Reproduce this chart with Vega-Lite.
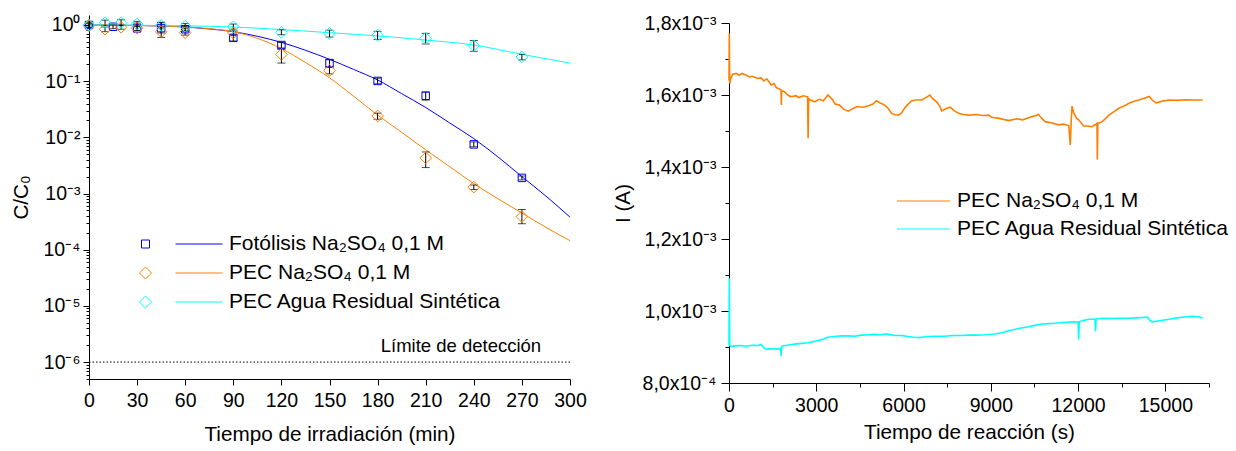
{
  "$schema": "https://vega.github.io/schema/vega-lite/v6.json",
  "background": "white",
  "padding": {"left": 10, "top": 13, "right": 5, "bottom": 0},
  "spacing": 159,
  "bounds": "flush",
  "config": {
    "font": "Liberation Sans",
    "view": {"stroke": null},
    "axis": {"domainColor": "black", "tickColor": "black", "labelColor": "black", "titleColor": "black", "labelFont": "Liberation Sans", "titleFont": "Liberation Sans", "labelFontSize": 19.5, "titleFontSize": 20.7, "titleFontWeight": "normal", "grid": false, "tickWidth": 1, "domainWidth": 1, "labelOverlap": false, "labelFlush": false},
    "legend": {"labelFont": "Liberation Sans", "labelFontSize": 21, "labelColor": "black", "labelLimit": 500}
  },
  "datasets": {
    "pts": [
      {"s": "Fotólisis Na₂SO₄ 0,1 M", "t": 0, "c": 1.0, "lo": 0.9, "hi": 1.12},
      {"s": "Fotólisis Na₂SO₄ 0,1 M", "t": 15, "c": 0.93, "lo": 0.86, "hi": 1.0},
      {"s": "Fotólisis Na₂SO₄ 0,1 M", "t": 30, "c": 0.87, "lo": 0.8, "hi": 1.08},
      {"s": "Fotólisis Na₂SO₄ 0,1 M", "t": 45, "c": 0.88, "lo": 0.72, "hi": 1.12},
      {"s": "Fotólisis Na₂SO₄ 0,1 M", "t": 60, "c": 0.84, "lo": 0.76, "hi": 0.95},
      {"s": "Fotólisis Na₂SO₄ 0,1 M", "t": 90, "c": 0.59, "lo": 0.52, "hi": 0.66},
      {"s": "Fotólisis Na₂SO₄ 0,1 M", "t": 120, "c": 0.44, "lo": 0.39, "hi": 0.49},
      {"s": "Fotólisis Na₂SO₄ 0,1 M", "t": 150, "c": 0.21, "lo": 0.18, "hi": 0.24},
      {"s": "Fotólisis Na₂SO₄ 0,1 M", "t": 180, "c": 0.101, "lo": 0.09, "hi": 0.113},
      {"s": "Fotólisis Na₂SO₄ 0,1 M", "t": 210, "c": 0.055, "lo": 0.046, "hi": 0.064},
      {"s": "Fotólisis Na₂SO₄ 0,1 M", "t": 240, "c": 0.0075, "lo": 0.0068, "hi": 0.0083},
      {"s": "Fotólisis Na₂SO₄ 0,1 M", "t": 270, "c": 0.0019, "lo": 0.00175, "hi": 0.00205},
      {"s": "PEC Na₂SO₄ 0,1 M", "t": 0, "c": 0.97, "lo": 0.88, "hi": 1.05},
      {"s": "PEC Na₂SO₄ 0,1 M", "t": 10, "c": 0.84, "lo": 0.76, "hi": 0.92},
      {"s": "PEC Na₂SO₄ 0,1 M", "t": 20, "c": 0.91, "lo": 0.84, "hi": 1.0},
      {"s": "PEC Na₂SO₄ 0,1 M", "t": 30, "c": 0.88, "lo": 0.8, "hi": 0.96},
      {"s": "PEC Na₂SO₄ 0,1 M", "t": 45, "c": 0.76, "lo": 0.6, "hi": 0.92},
      {"s": "PEC Na₂SO₄ 0,1 M", "t": 60, "c": 0.73, "lo": 0.66, "hi": 0.8},
      {"s": "PEC Na₂SO₄ 0,1 M", "t": 90, "c": 0.72, "lo": 0.66, "hi": 0.79},
      {"s": "PEC Na₂SO₄ 0,1 M", "t": 120, "c": 0.3, "lo": 0.21, "hi": 0.37},
      {"s": "PEC Na₂SO₄ 0,1 M", "t": 150, "c": 0.155, "lo": 0.135, "hi": 0.175},
      {"s": "PEC Na₂SO₄ 0,1 M", "t": 180, "c": 0.024, "lo": 0.021, "hi": 0.027},
      {"s": "PEC Na₂SO₄ 0,1 M", "t": 210, "c": 0.0043, "lo": 0.0029, "hi": 0.0055},
      {"s": "PEC Na₂SO₄ 0,1 M", "t": 240, "c": 0.0013, "lo": 0.00118, "hi": 0.00142},
      {"s": "PEC Na₂SO₄ 0,1 M", "t": 270, "c": 0.00039, "lo": 0.00029, "hi": 0.00052},
      {"s": "PEC Agua Residual Sintética", "t": 0, "c": 1.0, "lo": 0.92, "hi": 1.08},
      {"s": "PEC Agua Residual Sintética", "t": 10, "c": 1.1, "lo": 0.98, "hi": 1.22},
      {"s": "PEC Agua Residual Sintética", "t": 20, "c": 1.1, "lo": 0.98, "hi": 1.24},
      {"s": "PEC Agua Residual Sintética", "t": 30, "c": 1.04, "lo": 0.94, "hi": 1.16},
      {"s": "PEC Agua Residual Sintética", "t": 45, "c": 0.98, "lo": 0.88, "hi": 1.1},
      {"s": "PEC Agua Residual Sintética", "t": 60, "c": 0.95, "lo": 0.86, "hi": 1.06},
      {"s": "PEC Agua Residual Sintética", "t": 90, "c": 0.93, "lo": 0.84, "hi": 1.04},
      {"s": "PEC Agua Residual Sintética", "t": 120, "c": 0.74, "lo": 0.67, "hi": 0.82},
      {"s": "PEC Agua Residual Sintética", "t": 150, "c": 0.71, "lo": 0.61, "hi": 0.81},
      {"s": "PEC Agua Residual Sintética", "t": 180, "c": 0.66, "lo": 0.55, "hi": 0.77},
      {"s": "PEC Agua Residual Sintética", "t": 210, "c": 0.58, "lo": 0.46, "hi": 0.71},
      {"s": "PEC Agua Residual Sintética", "t": 240, "c": 0.43, "lo": 0.34, "hi": 0.53},
      {"s": "PEC Agua Residual Sintética", "t": 270, "c": 0.27, "lo": 0.24, "hi": 0.3}
    ],
    "fit": [
      {"s": "Fotólisis Na₂SO₄ 0,1 M", "t": 0, "c": 1.0},
      {"s": "Fotólisis Na₂SO₄ 0,1 M", "t": 30, "c": 0.98},
      {"s": "Fotólisis Na₂SO₄ 0,1 M", "t": 60, "c": 0.92},
      {"s": "Fotólisis Na₂SO₄ 0,1 M", "t": 75, "c": 0.85},
      {"s": "Fotólisis Na₂SO₄ 0,1 M", "t": 90, "c": 0.76},
      {"s": "Fotólisis Na₂SO₄ 0,1 M", "t": 105, "c": 0.63},
      {"s": "Fotólisis Na₂SO₄ 0,1 M", "t": 120, "c": 0.49},
      {"s": "Fotólisis Na₂SO₄ 0,1 M", "t": 135, "c": 0.355},
      {"s": "Fotólisis Na₂SO₄ 0,1 M", "t": 150, "c": 0.245},
      {"s": "Fotólisis Na₂SO₄ 0,1 M", "t": 165, "c": 0.162},
      {"s": "Fotólisis Na₂SO₄ 0,1 M", "t": 180, "c": 0.105},
      {"s": "Fotólisis Na₂SO₄ 0,1 M", "t": 195, "c": 0.06},
      {"s": "Fotólisis Na₂SO₄ 0,1 M", "t": 210, "c": 0.034},
      {"s": "Fotólisis Na₂SO₄ 0,1 M", "t": 225, "c": 0.018},
      {"s": "Fotólisis Na₂SO₄ 0,1 M", "t": 240, "c": 0.0095},
      {"s": "Fotólisis Na₂SO₄ 0,1 M", "t": 255, "c": 0.0045},
      {"s": "Fotólisis Na₂SO₄ 0,1 M", "t": 270, "c": 0.002},
      {"s": "Fotólisis Na₂SO₄ 0,1 M", "t": 285, "c": 0.0009},
      {"s": "Fotólisis Na₂SO₄ 0,1 M", "t": 300, "c": 0.00038},
      {"s": "PEC Na₂SO₄ 0,1 M", "t": 0, "c": 1.0},
      {"s": "PEC Na₂SO₄ 0,1 M", "t": 30, "c": 0.98},
      {"s": "PEC Na₂SO₄ 0,1 M", "t": 60, "c": 0.92},
      {"s": "PEC Na₂SO₄ 0,1 M", "t": 75, "c": 0.86},
      {"s": "PEC Na₂SO₄ 0,1 M", "t": 90, "c": 0.76},
      {"s": "PEC Na₂SO₄ 0,1 M", "t": 105, "c": 0.58},
      {"s": "PEC Na₂SO₄ 0,1 M", "t": 120, "c": 0.38},
      {"s": "PEC Na₂SO₄ 0,1 M", "t": 135, "c": 0.215},
      {"s": "PEC Na₂SO₄ 0,1 M", "t": 150, "c": 0.115},
      {"s": "PEC Na₂SO₄ 0,1 M", "t": 165, "c": 0.054},
      {"s": "PEC Na₂SO₄ 0,1 M", "t": 180, "c": 0.025},
      {"s": "PEC Na₂SO₄ 0,1 M", "t": 195, "c": 0.0123},
      {"s": "PEC Na₂SO₄ 0,1 M", "t": 210, "c": 0.006},
      {"s": "PEC Na₂SO₄ 0,1 M", "t": 225, "c": 0.003},
      {"s": "PEC Na₂SO₄ 0,1 M", "t": 240, "c": 0.0015},
      {"s": "PEC Na₂SO₄ 0,1 M", "t": 255, "c": 0.00081},
      {"s": "PEC Na₂SO₄ 0,1 M", "t": 270, "c": 0.00045},
      {"s": "PEC Na₂SO₄ 0,1 M", "t": 285, "c": 0.00025},
      {"s": "PEC Na₂SO₄ 0,1 M", "t": 300, "c": 0.000145},
      {"s": "PEC Agua Residual Sintética", "t": 0, "c": 1.0},
      {"s": "PEC Agua Residual Sintética", "t": 30, "c": 0.99},
      {"s": "PEC Agua Residual Sintética", "t": 60, "c": 0.965},
      {"s": "PEC Agua Residual Sintética", "t": 90, "c": 0.92},
      {"s": "PEC Agua Residual Sintética", "t": 120, "c": 0.83},
      {"s": "PEC Agua Residual Sintética", "t": 150, "c": 0.73},
      {"s": "PEC Agua Residual Sintética", "t": 180, "c": 0.64},
      {"s": "PEC Agua Residual Sintética", "t": 210, "c": 0.54},
      {"s": "PEC Agua Residual Sintética", "t": 240, "c": 0.44},
      {"s": "PEC Agua Residual Sintética", "t": 270, "c": 0.3},
      {"s": "PEC Agua Residual Sintética", "t": 300, "c": 0.21}
    ],
    "cur": [
      {"s": "PEC Na₂SO₄ 0,1 M", "t": 0, "i": 0.00164},
      {"s": "PEC Na₂SO₄ 0,1 M", "t": 10, "i": 0.001771},
      {"s": "PEC Na₂SO₄ 0,1 M", "t": 25, "i": 0.001632},
      {"s": "PEC Na₂SO₄ 0,1 M", "t": 60, "i": 0.001645},
      {"s": "PEC Na₂SO₄ 0,1 M", "t": 127, "i": 0.001658},
      {"s": "PEC Na₂SO₄ 0,1 M", "t": 250, "i": 0.00166},
      {"s": "PEC Na₂SO₄ 0,1 M", "t": 350, "i": 0.001655},
      {"s": "PEC Na₂SO₄ 0,1 M", "t": 450, "i": 0.00166},
      {"s": "PEC Na₂SO₄ 0,1 M", "t": 590, "i": 0.001655},
      {"s": "PEC Na₂SO₄ 0,1 M", "t": 700, "i": 0.00165},
      {"s": "PEC Na₂SO₄ 0,1 M", "t": 800, "i": 0.001652},
      {"s": "PEC Na₂SO₄ 0,1 M", "t": 990, "i": 0.001646},
      {"s": "PEC Na₂SO₄ 0,1 M", "t": 1100, "i": 0.001648},
      {"s": "PEC Na₂SO₄ 0,1 M", "t": 1200, "i": 0.001639},
      {"s": "PEC Na₂SO₄ 0,1 M", "t": 1300, "i": 0.001645},
      {"s": "PEC Na₂SO₄ 0,1 M", "t": 1450, "i": 0.001628},
      {"s": "PEC Na₂SO₄ 0,1 M", "t": 1550, "i": 0.001632},
      {"s": "PEC Na₂SO₄ 0,1 M", "t": 1620, "i": 0.001621},
      {"s": "PEC Na₂SO₄ 0,1 M", "t": 1750, "i": 0.001616},
      {"s": "PEC Na₂SO₄ 0,1 M", "t": 1790, "i": 0.001614},
      {"s": "PEC Na₂SO₄ 0,1 M", "t": 1800, "i": 0.001572},
      {"s": "PEC Na₂SO₄ 0,1 M", "t": 1810, "i": 0.001612},
      {"s": "PEC Na₂SO₄ 0,1 M", "t": 1900, "i": 0.00161},
      {"s": "PEC Na₂SO₄ 0,1 M", "t": 2020, "i": 0.0016},
      {"s": "PEC Na₂SO₄ 0,1 M", "t": 2130, "i": 0.001595},
      {"s": "PEC Na₂SO₄ 0,1 M", "t": 2300, "i": 0.001598},
      {"s": "PEC Na₂SO₄ 0,1 M", "t": 2400, "i": 0.001593},
      {"s": "PEC Na₂SO₄ 0,1 M", "t": 2550, "i": 0.001598},
      {"s": "PEC Na₂SO₄ 0,1 M", "t": 2700, "i": 0.001595},
      {"s": "PEC Na₂SO₄ 0,1 M", "t": 2720, "i": 0.00148},
      {"s": "PEC Na₂SO₄ 0,1 M", "t": 2740, "i": 0.00159},
      {"s": "PEC Na₂SO₄ 0,1 M", "t": 2800, "i": 0.001586},
      {"s": "PEC Na₂SO₄ 0,1 M", "t": 2940, "i": 0.001581},
      {"s": "PEC Na₂SO₄ 0,1 M", "t": 3100, "i": 0.001588},
      {"s": "PEC Na₂SO₄ 0,1 M", "t": 3250, "i": 0.001584},
      {"s": "PEC Na₂SO₄ 0,1 M", "t": 3400, "i": 0.0016},
      {"s": "PEC Na₂SO₄ 0,1 M", "t": 3550, "i": 0.001588},
      {"s": "PEC Na₂SO₄ 0,1 M", "t": 3650, "i": 0.001575},
      {"s": "PEC Na₂SO₄ 0,1 M", "t": 3800, "i": 0.001572},
      {"s": "PEC Na₂SO₄ 0,1 M", "t": 3950, "i": 0.00156},
      {"s": "PEC Na₂SO₄ 0,1 M", "t": 4100, "i": 0.001555},
      {"s": "PEC Na₂SO₄ 0,1 M", "t": 4250, "i": 0.001562},
      {"s": "PEC Na₂SO₄ 0,1 M", "t": 4400, "i": 0.001568},
      {"s": "PEC Na₂SO₄ 0,1 M", "t": 4600, "i": 0.001566},
      {"s": "PEC Na₂SO₄ 0,1 M", "t": 4800, "i": 0.00157},
      {"s": "PEC Na₂SO₄ 0,1 M", "t": 4950, "i": 0.001575},
      {"s": "PEC Na₂SO₄ 0,1 M", "t": 5070, "i": 0.001584},
      {"s": "PEC Na₂SO₄ 0,1 M", "t": 5200, "i": 0.001578},
      {"s": "PEC Na₂SO₄ 0,1 M", "t": 5350, "i": 0.001572},
      {"s": "PEC Na₂SO₄ 0,1 M", "t": 5450, "i": 0.001565},
      {"s": "PEC Na₂SO₄ 0,1 M", "t": 5590, "i": 0.001549},
      {"s": "PEC Na₂SO₄ 0,1 M", "t": 5700, "i": 0.001545},
      {"s": "PEC Na₂SO₄ 0,1 M", "t": 5820, "i": 0.001544},
      {"s": "PEC Na₂SO₄ 0,1 M", "t": 5930, "i": 0.00155},
      {"s": "PEC Na₂SO₄ 0,1 M", "t": 6050, "i": 0.001565},
      {"s": "PEC Na₂SO₄ 0,1 M", "t": 6150, "i": 0.001574},
      {"s": "PEC Na₂SO₄ 0,1 M", "t": 6280, "i": 0.001584},
      {"s": "PEC Na₂SO₄ 0,1 M", "t": 6450, "i": 0.001586},
      {"s": "PEC Na₂SO₄ 0,1 M", "t": 6620, "i": 0.001586},
      {"s": "PEC Na₂SO₄ 0,1 M", "t": 6750, "i": 0.001592},
      {"s": "PEC Na₂SO₄ 0,1 M", "t": 6910, "i": 0.0016},
      {"s": "PEC Na₂SO₄ 0,1 M", "t": 7000, "i": 0.00159},
      {"s": "PEC Na₂SO₄ 0,1 M", "t": 7140, "i": 0.001581},
      {"s": "PEC Na₂SO₄ 0,1 M", "t": 7250, "i": 0.001568},
      {"s": "PEC Na₂SO₄ 0,1 M", "t": 7310, "i": 0.001556},
      {"s": "PEC Na₂SO₄ 0,1 M", "t": 7450, "i": 0.001562},
      {"s": "PEC Na₂SO₄ 0,1 M", "t": 7600, "i": 0.001566},
      {"s": "PEC Na₂SO₄ 0,1 M", "t": 7750, "i": 0.001556},
      {"s": "PEC Na₂SO₄ 0,1 M", "t": 7890, "i": 0.001549},
      {"s": "PEC Na₂SO₄ 0,1 M", "t": 8050, "i": 0.001546},
      {"s": "PEC Na₂SO₄ 0,1 M", "t": 8240, "i": 0.001544},
      {"s": "PEC Na₂SO₄ 0,1 M", "t": 8500, "i": 0.001546},
      {"s": "PEC Na₂SO₄ 0,1 M", "t": 8700, "i": 0.001543},
      {"s": "PEC Na₂SO₄ 0,1 M", "t": 8930, "i": 0.001544},
      {"s": "PEC Na₂SO₄ 0,1 M", "t": 9030, "i": 0.001538},
      {"s": "PEC Na₂SO₄ 0,1 M", "t": 9300, "i": 0.001535},
      {"s": "PEC Na₂SO₄ 0,1 M", "t": 9610, "i": 0.001529},
      {"s": "PEC Na₂SO₄ 0,1 M", "t": 9900, "i": 0.001534},
      {"s": "PEC Na₂SO₄ 0,1 M", "t": 10100, "i": 0.001531},
      {"s": "PEC Na₂SO₄ 0,1 M", "t": 10300, "i": 0.001537},
      {"s": "PEC Na₂SO₄ 0,1 M", "t": 10500, "i": 0.001542},
      {"s": "PEC Na₂SO₄ 0,1 M", "t": 10640, "i": 0.001546},
      {"s": "PEC Na₂SO₄ 0,1 M", "t": 10750, "i": 0.001535},
      {"s": "PEC Na₂SO₄ 0,1 M", "t": 10870, "i": 0.001526},
      {"s": "PEC Na₂SO₄ 0,1 M", "t": 11100, "i": 0.001522},
      {"s": "PEC Na₂SO₄ 0,1 M", "t": 11330, "i": 0.001517},
      {"s": "PEC Na₂SO₄ 0,1 M", "t": 11500, "i": 0.001519},
      {"s": "PEC Na₂SO₄ 0,1 M", "t": 11680, "i": 0.001515},
      {"s": "PEC Na₂SO₄ 0,1 M", "t": 11730, "i": 0.001461},
      {"s": "PEC Na₂SO₄ 0,1 M", "t": 11760, "i": 0.00152},
      {"s": "PEC Na₂SO₄ 0,1 M", "t": 11790, "i": 0.001569},
      {"s": "PEC Na₂SO₄ 0,1 M", "t": 11850, "i": 0.00155},
      {"s": "PEC Na₂SO₄ 0,1 M", "t": 11950, "i": 0.001535},
      {"s": "PEC Na₂SO₄ 0,1 M", "t": 12020, "i": 0.001531},
      {"s": "PEC Na₂SO₄ 0,1 M", "t": 12190, "i": 0.001514},
      {"s": "PEC Na₂SO₄ 0,1 M", "t": 12300, "i": 0.001514},
      {"s": "PEC Na₂SO₄ 0,1 M", "t": 12480, "i": 0.001512},
      {"s": "PEC Na₂SO₄ 0,1 M", "t": 12600, "i": 0.001518},
      {"s": "PEC Na₂SO₄ 0,1 M", "t": 12650, "i": 0.001521},
      {"s": "PEC Na₂SO₄ 0,1 M", "t": 12660, "i": 0.001421},
      {"s": "PEC Na₂SO₄ 0,1 M", "t": 12680, "i": 0.001521},
      {"s": "PEC Na₂SO₄ 0,1 M", "t": 12830, "i": 0.001526},
      {"s": "PEC Na₂SO₄ 0,1 M", "t": 12950, "i": 0.001535},
      {"s": "PEC Na₂SO₄ 0,1 M", "t": 13060, "i": 0.001544},
      {"s": "PEC Na₂SO₄ 0,1 M", "t": 13200, "i": 0.001552},
      {"s": "PEC Na₂SO₄ 0,1 M", "t": 13400, "i": 0.001563},
      {"s": "PEC Na₂SO₄ 0,1 M", "t": 13600, "i": 0.00157},
      {"s": "PEC Na₂SO₄ 0,1 M", "t": 13750, "i": 0.001577},
      {"s": "PEC Na₂SO₄ 0,1 M", "t": 13900, "i": 0.001582},
      {"s": "PEC Na₂SO₄ 0,1 M", "t": 14090, "i": 0.001586},
      {"s": "PEC Na₂SO₄ 0,1 M", "t": 14250, "i": 0.00159},
      {"s": "PEC Na₂SO₄ 0,1 M", "t": 14440, "i": 0.001596},
      {"s": "PEC Na₂SO₄ 0,1 M", "t": 14550, "i": 0.001586},
      {"s": "PEC Na₂SO₄ 0,1 M", "t": 14670, "i": 0.001578},
      {"s": "PEC Na₂SO₄ 0,1 M", "t": 14900, "i": 0.001583},
      {"s": "PEC Na₂SO₄ 0,1 M", "t": 15130, "i": 0.001586},
      {"s": "PEC Na₂SO₄ 0,1 M", "t": 15400, "i": 0.001585},
      {"s": "PEC Na₂SO₄ 0,1 M", "t": 15700, "i": 0.001587},
      {"s": "PEC Na₂SO₄ 0,1 M", "t": 16000, "i": 0.001586},
      {"s": "PEC Na₂SO₄ 0,1 M", "t": 16280, "i": 0.001586},
      {"s": "PEC Agua Residual Sintética", "t": 0, "i": 0.000905},
      {"s": "PEC Agua Residual Sintética", "t": 10, "i": 0.001091},
      {"s": "PEC Agua Residual Sintética", "t": 25, "i": 0.000905},
      {"s": "PEC Agua Residual Sintética", "t": 70, "i": 0.000901},
      {"s": "PEC Agua Residual Sintética", "t": 200, "i": 0.000903},
      {"s": "PEC Agua Residual Sintética", "t": 400, "i": 0.000904},
      {"s": "PEC Agua Residual Sintética", "t": 600, "i": 0.000902},
      {"s": "PEC Agua Residual Sintética", "t": 800, "i": 0.000905},
      {"s": "PEC Agua Residual Sintética", "t": 1000, "i": 0.000904},
      {"s": "PEC Agua Residual Sintética", "t": 1100, "i": 0.000907},
      {"s": "PEC Agua Residual Sintética", "t": 1220, "i": 0.000896},
      {"s": "PEC Agua Residual Sintética", "t": 1320, "i": 0.000894},
      {"s": "PEC Agua Residual Sintética", "t": 1500, "i": 0.000895},
      {"s": "PEC Agua Residual Sintética", "t": 1700, "i": 0.000894},
      {"s": "PEC Agua Residual Sintética", "t": 1780, "i": 0.000896},
      {"s": "PEC Agua Residual Sintética", "t": 1790, "i": 0.000875},
      {"s": "PEC Agua Residual Sintética", "t": 1810, "i": 0.000902},
      {"s": "PEC Agua Residual Sintética", "t": 1850, "i": 0.000903},
      {"s": "PEC Agua Residual Sintética", "t": 2000, "i": 0.000905},
      {"s": "PEC Agua Residual Sintética", "t": 2250, "i": 0.000908},
      {"s": "PEC Agua Residual Sintética", "t": 2500, "i": 0.00091},
      {"s": "PEC Agua Residual Sintética", "t": 2710, "i": 0.000912},
      {"s": "PEC Agua Residual Sintética", "t": 2900, "i": 0.000915},
      {"s": "PEC Agua Residual Sintética", "t": 3060, "i": 0.000918},
      {"s": "PEC Agua Residual Sintética", "t": 3250, "i": 0.000922},
      {"s": "PEC Agua Residual Sintética", "t": 3400, "i": 0.000927},
      {"s": "PEC Agua Residual Sintética", "t": 3600, "i": 0.000929},
      {"s": "PEC Agua Residual Sintética", "t": 3860, "i": 0.000931},
      {"s": "PEC Agua Residual Sintética", "t": 4100, "i": 0.000931},
      {"s": "PEC Agua Residual Sintética", "t": 4320, "i": 0.00093},
      {"s": "PEC Agua Residual Sintética", "t": 4550, "i": 0.000933},
      {"s": "PEC Agua Residual Sintética", "t": 4780, "i": 0.000934},
      {"s": "PEC Agua Residual Sintética", "t": 5000, "i": 0.000935},
      {"s": "PEC Agua Residual Sintética", "t": 5200, "i": 0.000934},
      {"s": "PEC Agua Residual Sintética", "t": 5360, "i": 0.000936},
      {"s": "PEC Agua Residual Sintética", "t": 5500, "i": 0.000935},
      {"s": "PEC Agua Residual Sintética", "t": 5700, "i": 0.000932},
      {"s": "PEC Agua Residual Sintética", "t": 5930, "i": 0.000932},
      {"s": "PEC Agua Residual Sintética", "t": 6160, "i": 0.000929},
      {"s": "PEC Agua Residual Sintética", "t": 6350, "i": 0.000927},
      {"s": "PEC Agua Residual Sintética", "t": 6560, "i": 0.000926},
      {"s": "PEC Agua Residual Sintética", "t": 6800, "i": 0.000929},
      {"s": "PEC Agua Residual Sintética", "t": 7080, "i": 0.00093},
      {"s": "PEC Agua Residual Sintética", "t": 7400, "i": 0.00093},
      {"s": "PEC Agua Residual Sintética", "t": 7700, "i": 0.000932},
      {"s": "PEC Agua Residual Sintética", "t": 8000, "i": 0.000932},
      {"s": "PEC Agua Residual Sintética", "t": 8230, "i": 0.000933},
      {"s": "PEC Agua Residual Sintética", "t": 8500, "i": 0.000933},
      {"s": "PEC Agua Residual Sintética", "t": 8800, "i": 0.000934},
      {"s": "PEC Agua Residual Sintética", "t": 9150, "i": 0.000936},
      {"s": "PEC Agua Residual Sintética", "t": 9450, "i": 0.000941},
      {"s": "PEC Agua Residual Sintética", "t": 9720, "i": 0.000947},
      {"s": "PEC Agua Residual Sintética", "t": 10000, "i": 0.000952},
      {"s": "PEC Agua Residual Sintética", "t": 10300, "i": 0.000956},
      {"s": "PEC Agua Residual Sintética", "t": 10500, "i": 0.00096},
      {"s": "PEC Agua Residual Sintética", "t": 10760, "i": 0.000964},
      {"s": "PEC Agua Residual Sintética", "t": 11000, "i": 0.000965},
      {"s": "PEC Agua Residual Sintética", "t": 11200, "i": 0.000966},
      {"s": "PEC Agua Residual Sintética", "t": 11450, "i": 0.000968},
      {"s": "PEC Agua Residual Sintética", "t": 11700, "i": 0.000969},
      {"s": "PEC Agua Residual Sintética", "t": 11850, "i": 0.00097},
      {"s": "PEC Agua Residual Sintética", "t": 12000, "i": 0.000969},
      {"s": "PEC Agua Residual Sintética", "t": 12020, "i": 0.000921},
      {"s": "PEC Agua Residual Sintética", "t": 12040, "i": 0.00097},
      {"s": "PEC Agua Residual Sintética", "t": 12200, "i": 0.000974},
      {"s": "PEC Agua Residual Sintética", "t": 12370, "i": 0.000977},
      {"s": "PEC Agua Residual Sintética", "t": 12580, "i": 0.000977},
      {"s": "PEC Agua Residual Sintética", "t": 12600, "i": 0.000943},
      {"s": "PEC Agua Residual Sintética", "t": 12620, "i": 0.000978},
      {"s": "PEC Agua Residual Sintética", "t": 12830, "i": 0.00098},
      {"s": "PEC Agua Residual Sintética", "t": 13100, "i": 0.000979},
      {"s": "PEC Agua Residual Sintética", "t": 13400, "i": 0.00098},
      {"s": "PEC Agua Residual Sintética", "t": 13750, "i": 0.00098},
      {"s": "PEC Agua Residual Sintética", "t": 14000, "i": 0.000981},
      {"s": "PEC Agua Residual Sintética", "t": 14200, "i": 0.000982},
      {"s": "PEC Agua Residual Sintética", "t": 14380, "i": 0.000983},
      {"s": "PEC Agua Residual Sintética", "t": 14450, "i": 0.000975},
      {"s": "PEC Agua Residual Sintética", "t": 14550, "i": 0.00097},
      {"s": "PEC Agua Residual Sintética", "t": 14800, "i": 0.000973},
      {"s": "PEC Agua Residual Sintética", "t": 15130, "i": 0.000977},
      {"s": "PEC Agua Residual Sintética", "t": 15400, "i": 0.000981},
      {"s": "PEC Agua Residual Sintética", "t": 15700, "i": 0.000984},
      {"s": "PEC Agua Residual Sintética", "t": 15950, "i": 0.000985},
      {"s": "PEC Agua Residual Sintética", "t": 16160, "i": 0.000984},
      {"s": "PEC Agua Residual Sintética", "t": 16280, "i": 0.00098}
    ]
  },
  "resolve": {"scale": {"color": "independent", "shape": "independent"}},
  "hconcat": [
    {
      "width": 481,
      "height": 364,
      "layer": [
        {
          "data": {"values": [{"lim": 0.000001}]},
          "mark": {"type": "rule", "color": "black", "strokeWidth": 1, "strokeDash": [1.5, 2]},
          "encoding": {
            "y": {"field": "lim", "type": "quantitative", "title": "C/C₀",
              "scale": {"type": "log", "domain": [0.0000005, 1.506], "nice": false},
              "axis": {
                "values": [0.0000005, 0.0000006, 0.0000007, 0.0000008, 0.0000009, 0.000001, 0.000002, 0.000003, 0.000004, 0.000005, 0.000006, 0.000007, 0.000008, 0.000009, 0.00001, 0.00002, 0.00003, 0.00004, 0.00005, 0.00006, 0.00007, 0.00008, 0.00009, 0.0001, 0.0002, 0.0003, 0.0004, 0.0005, 0.0006, 0.0007, 0.0008, 0.0009, 0.001, 0.002, 0.003, 0.004, 0.005, 0.006, 0.007, 0.008, 0.009, 0.01, 0.02, 0.03, 0.04, 0.05, 0.06, 0.07, 0.08, 0.09, 0.1, 0.2, 0.3, 0.4, 0.5, 0.6, 0.7, 0.8, 0.9, 1],
                "labelExpr": "abs(log(datum.value)/LN10 - round(log(datum.value)/LN10)) < 0.01 ? '10' + ['⁰','⁻¹','⁻²','⁻³','⁻⁴','⁻⁵','⁻⁶','⁻⁷'][-round(log(datum.value)/LN10)] : ''",
                "tickSize": {"condition": {"test": "abs(log(datum.value)/LN10 - round(log(datum.value)/LN10)) < 0.01", "value": 6}, "value": 3},
                "labelPadding": 3,
                "minExtent": 55,
                "maxExtent": 55,
                "titlePadding": 3
              }
            }
          }
        },
        {
          "data": {"values": [{}]},
          "mark": {"type": "text", "text": "Límite de detección", "align": "right", "baseline": "middle", "fontSize": 18.5, "color": "black"},
          "encoding": {
            "x": {"datum": 282, "type": "quantitative", "title": "Tiempo de irradiación (min)"},
            "y": {"datum": 0.00000195, "type": "quantitative", "title": "C/C₀"}
          }
        },
        {
          "data": {"name": "fit"},
          "transform": [{"filter": "datum.s === 'Fotólisis Na₂SO₄ 0,1 M'"}],
          "mark": {"type": "line", "strokeWidth": 1, "interpolate": "monotone", "color": "#0000ff"},
          "encoding": {
            "x": {"field": "t", "type": "quantitative", "title": "Tiempo de irradiación (min)",
              "scale": {"domain": [0, 300], "nice": false},
              "axis": {
                "values": [0, 15, 30, 45, 60, 75, 90, 105, 120, 135, 150, 165, 180, 195, 210, 225, 240, 255, 270, 285, 300],
                "labelExpr": "datum.value % 30 === 0 ? datum.label : ''",
                "tickSize": {"condition": {"test": "datum.value % 30 === 0", "value": 6}, "value": 3},
                "labelPadding": 6,
                "titlePadding": 15
              }
            },
            "y": {"field": "c", "type": "quantitative", "title": "C/C₀"}
          }
        },
        {
          "data": {"name": "fit"},
          "transform": [{"filter": "datum.s === 'PEC Na₂SO₄ 0,1 M'"}],
          "mark": {"type": "line", "strokeWidth": 1, "interpolate": "monotone", "color": "#ff8000"},
          "encoding": {
            "x": {"field": "t", "type": "quantitative", "title": "Tiempo de irradiación (min)"},
            "y": {"field": "c", "type": "quantitative", "title": "C/C₀"}
          }
        },
        {
          "data": {"name": "fit"},
          "transform": [{"filter": "datum.s === 'PEC Agua Residual Sintética'"}],
          "mark": {"type": "line", "strokeWidth": 1, "interpolate": "monotone", "color": "#00ffff"},
          "encoding": {
            "x": {"field": "t", "type": "quantitative", "title": "Tiempo de irradiación (min)"},
            "y": {"field": "c", "type": "quantitative", "title": "C/C₀"}
          }
        },
        {
          "data": {"name": "pts"},
          "mark": {"type": "errorbar", "color": "black", "thickness": 1, "ticks": {"size": 8, "thickness": 1}},
          "encoding": {
            "x": {"field": "t", "type": "quantitative", "title": "Tiempo de irradiación (min)"},
            "y": {"field": "lo", "type": "quantitative", "title": "C/C₀"},
            "y2": {"field": "hi"}
          }
        },
        {
          "data": {"name": "pts"},
          "transform": [{"filter": "datum.s === 'Fotólisis Na₂SO₄ 0,1 M'"}],
          "mark": {"type": "point", "shape": "square", "size": 56, "filled": false, "strokeWidth": 1, "color": "#0000ff", "opacity": 1},
          "encoding": {
            "x": {"field": "t", "type": "quantitative", "title": "Tiempo de irradiación (min)"},
            "y": {"field": "c", "type": "quantitative", "title": "C/C₀"}
          }
        },
        {
          "data": {"name": "pts"},
          "transform": [{"filter": "datum.s === 'PEC Na₂SO₄ 0,1 M'"}],
          "mark": {"type": "point", "shape": "diamond", "size": 136, "filled": false, "strokeWidth": 1, "color": "#ff8000", "opacity": 1},
          "encoding": {
            "x": {"field": "t", "type": "quantitative", "title": "Tiempo de irradiación (min)"},
            "y": {"field": "c", "type": "quantitative", "title": "C/C₀"}
          }
        },
        {
          "data": {"name": "pts"},
          "transform": [{"filter": "datum.s === 'PEC Agua Residual Sintética'"}],
          "mark": {"type": "point", "shape": "diamond", "size": 136, "filled": false, "strokeWidth": 1, "color": "#00ffff", "opacity": 1},
          "encoding": {
            "x": {"field": "t", "type": "quantitative", "title": "Tiempo de irradiación (min)"},
            "y": {"field": "c", "type": "quantitative", "title": "C/C₀"}
          }
        },
        {
          "data": {"name": "fit"},
          "mark": {"type": "point", "filled": false, "opacity": 0, "size": 100, "strokeWidth": 1},
          "encoding": {
            "x": {"field": "t", "type": "quantitative", "title": "Tiempo de irradiación (min)"},
            "y": {"field": "c", "type": "quantitative", "title": "C/C₀"},
            "color": {"field": "s", "type": "nominal",
              "scale": {"domain": ["Fotólisis Na₂SO₄ 0,1 M", "PEC Na₂SO₄ 0,1 M", "PEC Agua Residual Sintética"], "range": ["#0000ff", "#ff8000", "#00ffff"]},
              "legend": {"title": null, "orient": "none", "legendX": 46, "legendY": 218.5, "padding": 0, "offset": 0, "symbolSize": 100, "symbolStrokeWidth": 1, "symbolOffset": 0, "labelOffset": 73, "rowPadding": 7, "symbolFillColor": "transparent", "symbolOpacity": 1}},
            "shape": {"field": "s", "type": "nominal",
              "scale": {"domain": ["Fotólisis Na₂SO₄ 0,1 M", "PEC Na₂SO₄ 0,1 M", "PEC Agua Residual Sintética"], "range": ["M-0.8,-0.8H0.8V0.8H-0.8Z M6,0H15.4", "M0,-1.2L1.2,0L0,1.2L-1.2,0Z M6,0H15.4", "M0,-1.2L1.2,0L0,1.2L-1.2,0Z M6,0H15.4"]},
              "legend": {"title": null, "orient": "none", "legendX": 46, "legendY": 218.5, "padding": 0, "offset": 0, "symbolSize": 100, "symbolStrokeWidth": 1, "symbolOffset": 0, "labelOffset": 73, "rowPadding": 7, "symbolFillColor": "transparent", "symbolOpacity": 1}}
          }
        }
      ]
    },
    {
      "width": 480,
      "height": 368,
      "data": {"name": "cur"},
      "mark": {"type": "line", "strokeWidth": 1.6},
      "encoding": {
        "x": {"field": "t", "type": "quantitative", "title": "Tiempo de reacción (s)",
          "scale": {"domain": [0, 16500], "nice": false},
          "axis": {
            "values": [0, 1500, 3000, 4500, 6000, 7500, 9000, 10500, 12000, 13500, 15000, 16500],
            "format": "d",
            "labelExpr": "datum.value % 3000 === 0 ? datum.label : ''",
            "tickSize": {"condition": {"test": "datum.value % 3000 === 0", "value": 8}, "value": 4},
            "labelPadding": 5.5,
            "titlePadding": 7
          }
        },
        "y": {"field": "i", "type": "quantitative", "title": "I (A)",
          "scale": {"domain": [0.0008, 0.0018], "nice": false, "zero": false, "range": [368, 8]},
          "axis": {
            "values": [0.0008, 0.0009, 0.001, 0.0011, 0.0012, 0.0013, 0.0014, 0.0015, 0.0016, 0.0017, 0.0018],
            "labelExpr": "round(datum.value*10000) % 2 === 0 ? (datum.value >= 0.00099 ? replace(format(datum.value*1000, '.1f'), '.', ',') + 'x10⁻³' : replace(format(datum.value*10000, '.1f'), '.', ',') + 'x10⁻⁴') : ''",
            "tickSize": {"condition": {"test": "round(datum.value*10000) % 2 === 0", "value": 8}, "value": 4},
            "labelPadding": 5,
            "minExtent": 88,
            "maxExtent": 88,
            "titlePadding": 8
          }
        },
        "color": {"field": "s", "type": "nominal",
          "scale": {"domain": ["PEC Na₂SO₄ 0,1 M", "PEC Agua Residual Sintética"], "range": ["#ff8000", "#00ffff"]},
          "legend": {"title": null, "orient": "none", "legendX": 184, "legendY": 175.5, "padding": 0, "offset": 0, "symbolType": "M-5.3,0H5.3", "symbolSize": 100, "symbolStrokeWidth": 1, "symbolOffset": 0, "labelOffset": 23, "rowPadding": 6}}
      }
    }
  ]
}
